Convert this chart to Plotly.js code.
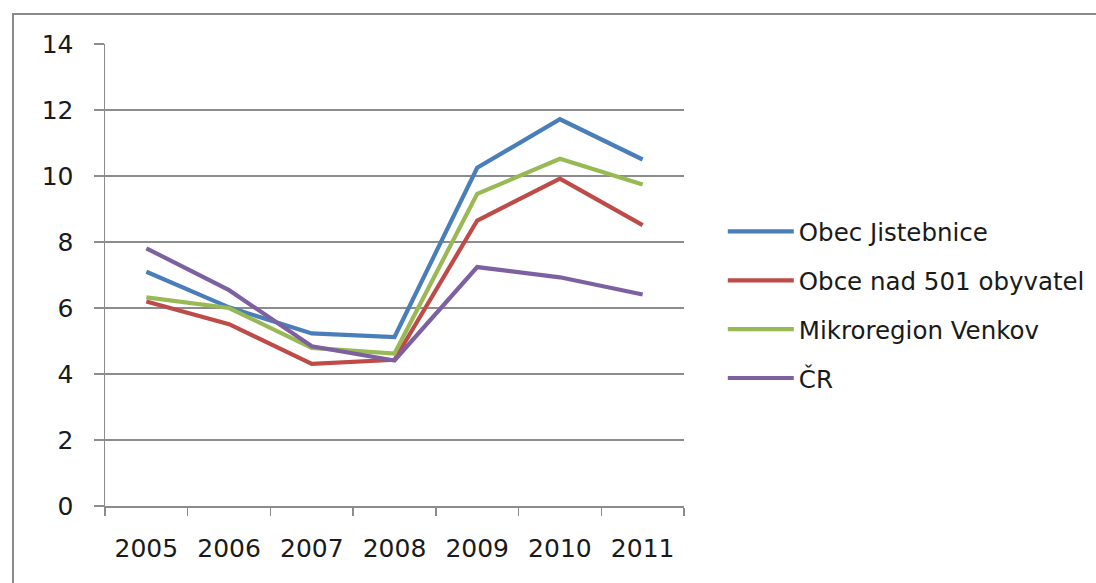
<!DOCTYPE html>
<html>
<head>
<meta charset="utf-8">
<script src="https://cdn.plot.ly/plotly-3.0.1.min.js"></script>
<style>
  html, body { margin: 0; padding: 0; background: #fff; overflow: hidden; }
  #wrap { position: relative; width: 1096px; height: 583px; }
  #chart { width: 1096px; height: 583px; }
  #frame { position: absolute; left: 12px; top: 13px; width: 3000px; height: 3000px;
           border-left: 2.5px solid #8a8a8a; border-top: 2.5px solid #8a8a8a; pointer-events: none; }
</style>
</head>
<body>
<div id="wrap">
  <div id="chart"></div>
  <div id="frame"></div>
</div>
<script>
const years = ['2005', '2006', '2007', '2008', '2009', '2010', '2011'];
const seriesNames = ['Obec Jistebnice', 'Obce nad 501 obyvatel', 'Mikroregion Venkov', 'ČR'];
const obecJistebnice = [7.10, 6.02, 5.23, 5.12, 10.25, 11.72, 10.50];
const obceNad501 = [6.20, 5.51, 4.31, 4.43, 8.65, 9.92, 8.51];
const mikroregionVenkov = [6.32, 6.00, 4.79, 4.62, 9.46, 10.52, 9.74];
const cr = [7.81, 6.54, 4.84, 4.41, 7.24, 6.93, 6.41];
const colors = ['#4A7EBB', '#BE4B48', '#98B954', '#7D60A0'];
const yTicks = [0, 2, 4, 6, 8, 10, 12, 14];

const allValues = [obecJistebnice, obceNad501, mikroregionVenkov, cr];
const traces = allValues.map((vals, i) => ({
  type: 'scatter',
  mode: 'lines',
  x: years,
  y: vals,
  name: seriesNames[i],
  legendgroup: 'g' + i,
  line: { color: colors[i], width: 4.2 },
  hoverinfo: 'x+y+name'
}));

const font = { family: 'DejaVu Sans, Verdana, sans-serif', size: 25, color: '#1a1a1a' };

const layout = {
  width: 1096,
  height: 583,
  margin: { l: 105, r: 412, t: 44, b: 77, pad: 0, autoexpand: false },
  paper_bgcolor: '#ffffff',
  plot_bgcolor: '#ffffff',
  font: font,
  showlegend: true,
  legend: {
    x: 1.067, y: 0.435, xanchor: 'left', yanchor: 'middle',
    traceorder: 'grouped', tracegroupgap: 14,
    font: { family: font.family, size: 24.5, color: '#1a1a1a' },
    itemwidth: 66,
    bgcolor: 'rgba(0,0,0,0)'
  },
  xaxis: {
    type: 'category',
    range: [-0.5, 6.5],
    showgrid: false,
    zeroline: false,
    showline: true,
    linecolor: '#8c8c8c',
    linewidth: 1.5,
    ticks: 'outside',
    tickson: 'boundaries',
    ticklen: 8,
    tickcolor: '#8c8c8c',
    tickwidth: 1.5,
    ticklabelstandoff: 19,
    tickfont: font,
    fixedrange: true
  },
  yaxis: {
    range: [0, 14],
    tickvals: yTicks,
    ticktext: yTicks.map(String),
    showgrid: true,
    gridcolor: '#8c8c8c',
    gridwidth: 1.2,
    zeroline: false,
    showline: true,
    linecolor: '#8c8c8c',
    linewidth: 1.5,
    ticks: 'outside',
    ticklen: 10,
    tickcolor: '#8c8c8c',
    tickwidth: 1.5,
    ticklabelstandoff: 15,
    tickfont: font,
    fixedrange: true
  }
};

Plotly.newPlot('chart', traces, layout, { displayModeBar: false, staticPlot: true });
</script>
</body>
</html>
